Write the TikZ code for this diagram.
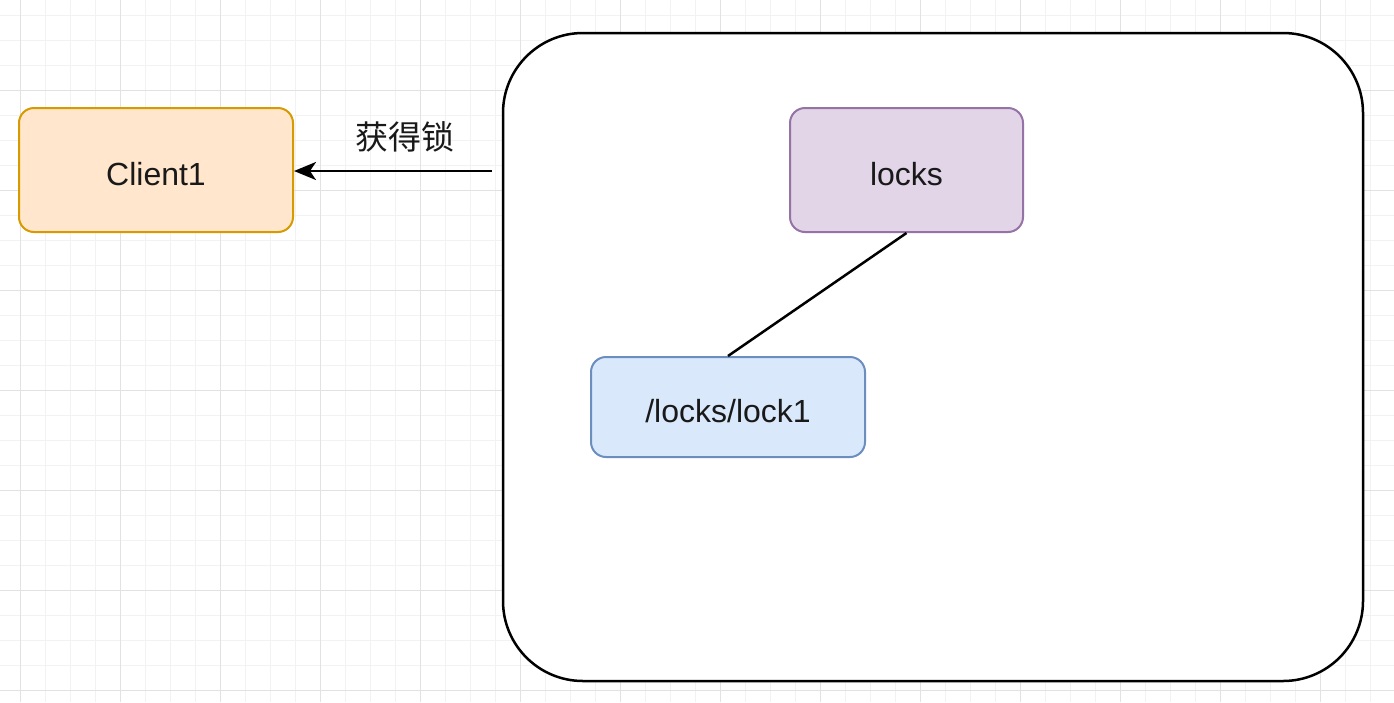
\documentclass[tikz,border=0pt]{standalone}
\usepackage{fontspec}
\setmainfont{Liberation Sans}
\newfontfamily\cjk{Noto Sans CJK SC}
\usetikzlibrary{arrows.meta}
\definecolor{minorgrid}{HTML}{F2F2F2}
\definecolor{majorgrid}{HTML}{E2E2E2}
\definecolor{orfill}{HTML}{FFE6CC}
\definecolor{ordraw}{HTML}{D79B00}
\definecolor{pufill}{HTML}{E1D5E7}
\definecolor{pudraw}{HTML}{9673A6}
\definecolor{blfill}{HTML}{DAE8FC}
\definecolor{bldraw}{HTML}{6C8EBF}
\tikzset{
  box/.style={draw, rounded corners=15pt, line width=2pt, inner sep=0pt,
    font=\fontsize{32}{38}\selectfont, text=black!90, text height=31pt, text depth=0pt},
}
\begin{document}
\begin{tikzpicture}[x=1pt,y=-1pt]
\useasboundingbox (0,0) rectangle (1394,702);
\fill[white] (0,0) rectangle (1394,702);
% grid
\foreach \x in {-5,20,...,1394} \draw[minorgrid,line width=1pt] (\x,0) -- (\x,702);
\foreach \y in {15,40,...,702} \draw[minorgrid,line width=1pt] (0,\y) -- (1394,\y);
\foreach \x in {20,120,...,1394} \draw[majorgrid,line width=1pt] (\x,0) -- (\x,702);
\foreach \y in {90,190,...,702} \draw[majorgrid,line width=1pt] (0,\y) -- (1394,\y);
% container
\node[draw=black, fill=white, line width=2.5pt, rounded corners=80pt,
  minimum width=860pt, minimum height=648pt, inner sep=0pt] (zk) at (933,357) {};
% nodes
\node[box, draw=ordraw, fill=orfill, minimum width=274pt, minimum height=124pt] (client) at (156,170) {Client1};
\node[box, draw=pudraw, fill=pufill, minimum width=233pt, minimum height=124pt] (locks) at (906.5,170) {locks};
\node[box, draw=bldraw, fill=blfill, minimum width=274pt, minimum height=100pt] (lock1) at (728,407) {/locks/lock1};
% connectors
\coordinate (src) at (492,171);
\draw[line width=2.5pt, -{Stealth[length=22pt,width=18pt,inset=6pt]}] (src) -- (client.east |- src)
  node[pos=0.44, above=14pt, font=\cjk\fontsize{33}{38}\selectfont, text=black!90] (lbl) {获得锁};
\draw[line width=2.5pt] (locks.south) -- (lock1.north);
\end{tikzpicture}
\end{document}
